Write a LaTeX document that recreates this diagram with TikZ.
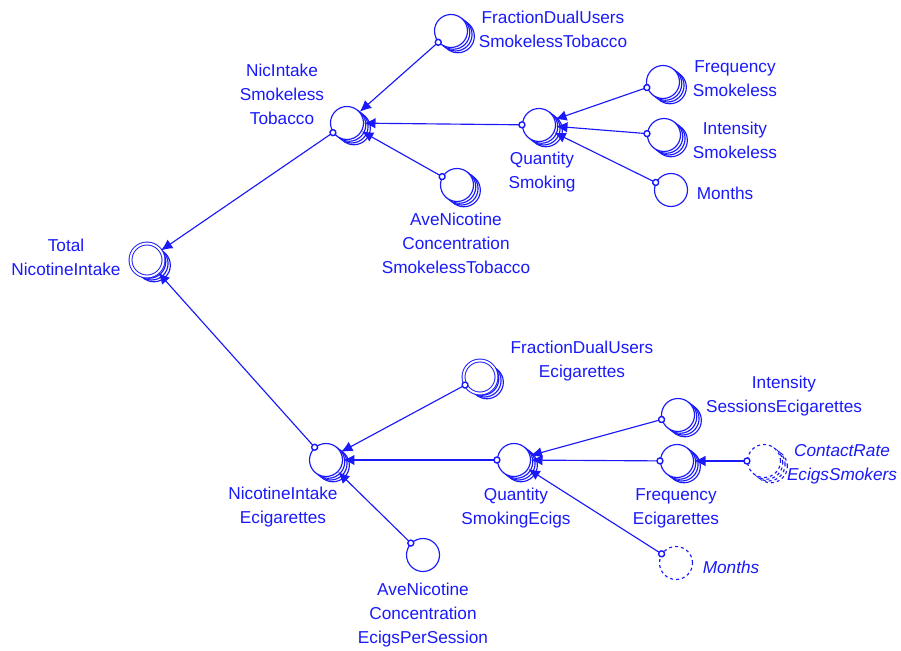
\documentclass[tikz,border=0pt]{standalone}
\usepackage{fontspec}
\setmainfont{Liberation Sans}
\usetikzlibrary{arrows.meta, shadows}

\definecolor{vblue}{RGB}{25,25,250}

\tikzset{
    var/.style={circle, draw=vblue, fill=white, line width=0.65pt,
        minimum size=0.66cm, inner sep=0pt},
    stacked/.style={
        general shadow={shadow xshift=3.9pt, shadow yshift=-3.0pt, draw=vblue, fill=white, line width=0.65pt},
        general shadow={shadow xshift=2.6pt, shadow yshift=-2.0pt, draw=vblue, fill=white, line width=0.65pt},
        general shadow={shadow xshift=1.3pt, shadow yshift=-1.0pt, draw=vblue, fill=white, line width=0.65pt}},
    dstacked/.style={
        general shadow={shadow xshift=3.9pt, shadow yshift=-3.0pt, draw=vblue, fill=white, line width=0.65pt, dash pattern=on 1.7pt off 1.7pt},
        general shadow={shadow xshift=2.6pt, shadow yshift=-2.0pt, draw=vblue, fill=white, line width=0.65pt, dash pattern=on 1.7pt off 1.7pt},
        general shadow={shadow xshift=1.3pt, shadow yshift=-1.0pt, draw=vblue, fill=white, line width=0.65pt, dash pattern=on 1.7pt off 1.7pt}},
    ring/.style={double=white, double distance=1.1pt, line width=0.55pt},
    ghost/.style={dash pattern=on 1.7pt off 1.7pt},
    lbl/.style={text=vblue, align=center, inner sep=0pt,
        font=\fontsize{9.8}{13.6}\selectfont},
    link/.style={draw=vblue, line width=0.65pt,
        {Circle[length=4.2pt, fill=white, line width=0.8pt]}-{Latex[length=6.5pt, width=6pt]},
        shorten <=-2.1pt}
}

\begin{document}
\begin{tikzpicture}[x=0.02cm, y=-0.02cm]
    \useasboundingbox (0,0) rectangle (901,651);

    % Total
    \node[var, stacked, ring] (tot) at (147,260) {};
    \node[lbl] (tot-l) at (66,257) {Total\\NicotineIntake};

    % Smokeless tobacco branch
    \node[var, stacked] (nis) at (347,123) {};
    \node[lbl] (nis-l) at (282,94) {NicIntake\\Smokeless\\Tobacco};
    \node[var, stacked] (fds) at (451,31) {};
    \node[lbl] (fds-l) at (553,29) {FractionDualUsers\\SmokelessTobacco};
    \node[var, stacked] (ans) at (457,185) {};
    \node[lbl] (ans-l) at (456,243) {AveNicotine\\Concentration\\SmokelessTobacco};
    \node[var, stacked] (qs) at (539,125) {};
    \node[lbl] (qs-l) at (542,172) {Quantity\\Smoking};
    \node[var, stacked] (fs) at (663,82) {};
    \node[lbl] (fs-l) at (735,79) {Frequency\\Smokeless};
    \node[var, stacked] (is) at (664,135) {};
    \node[lbl] (is-l) at (735,140) {Intensity\\Smokeless};
    \node[var] (ms) at (671,190) {};
    \node[lbl] (ms-l) at (725,193) {Months};

    % E-cigarette branch
    \node[var, stacked] (nie) at (326,460) {};
    \node[lbl] (nie-l) at (283,507) {NicotineIntake\\Ecigarettes};
    \node[var, stacked, ring] (fde) at (480,377) {};
    \node[lbl] (fde-l) at (582,361) {FractionDualUsers\\Ecigarettes};
    \node[var] (ane) at (423,555) {};
    \node[lbl] (ane-l) at (423,615) {AveNicotine\\Concentration\\EcigsPerSession};
    \node[var, stacked] (qse) at (514,460) {};
    \node[lbl] (qse-l) at (516,508) {Quantity\\SmokingEcigs};
    \node[var, stacked] (ise) at (678,415) {};
    \node[lbl] (ise-l) at (784,396) {Intensity\\SessionsEcigarettes};
    \node[var, stacked] (fe) at (677,461) {};
    \node[lbl] (fe-l) at (676,508) {Frequency\\Ecigarettes};
    \node[var, dstacked, ghost] (cr) at (764,461) {};
    \node[lbl, font=\fontsize{9.8}{13.6}\selectfont\itshape] (cr-l) at (842,464) {ContactRate\\EcigsSmokers};
    \node[var, ghost] (me) at (676,563) {};
    \node[lbl, font=\fontsize{9.8}{13.6}\selectfont\itshape] (me-l) at (731,567) {Months};

    % Links
    \draw[link] (nis) -- (tot);
    \draw[link] (nie) -- (tot);
    \draw[link] (fds) -- (nis);
    \draw[link] (qs) -- (nis);
    \draw[link] (ans) -- (nis);
    \draw[link] (fs) -- (qs);
    \draw[link] (is) -- (qs);
    \draw[link] (ms) -- (qs);
    \draw[link] (fde) -- (nie);
    \draw[link] (qse) -- (nie);
    \draw[link] (ane) -- (nie);
    \draw[link] (ise) -- (qse);
    \draw[link] (fe) -- (qse);
    \draw[link] (me) -- (qse);
    \draw[link] (cr) -- (fe);

\end{tikzpicture}
\end{document}
